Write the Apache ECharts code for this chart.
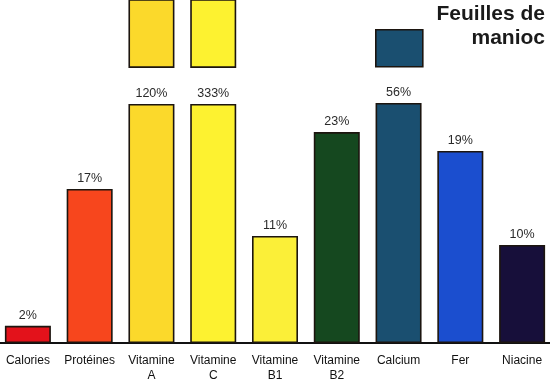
<!DOCTYPE html>
<html>
<head>
<meta charset="utf-8">
<style>
  html, body { margin: 0; padding: 0; background: #ffffff; }
  #chart { width: 550px; height: 380px; }
</style>
<script src="https://cdn.jsdelivr.net/npm/echarts@6/dist/echarts.min.js"></script>
</head>
<body>
<div id="chart"></div>
<script>
// Categories (x axis tick labels)
var categories = ['Calories', 'Protéines', 'Vitamine\nA', 'Vitamine\nC', 'Vitamine\nB1', 'Vitamine\nB2', 'Calcium', 'Fer', 'Niacine'];
// Printed values (% of daily needs), shown above each bar
var percentValues = [2, 17, 120, 333, 11, 23, 56, 19, 10];
// Drawn bar heights (in % of plot height; scale is not linear in the original)
var barHeights = [5.0, 44.9, 69.7, 69.7, 31.2, 61.5, 70.0, 56.0, 28.6];
// Broken bars: white gap above the lower part, then an upper part that runs off the top
var breakGap = [null, null, 10.5, 10.5, null, null, null, null, null];
var breakTop = [null, null, 40, 40, null, null, null, null, null];
// Bar colours
var barColors = ['#e3121b', '#f7461d', '#fbd92b', '#fdf230', '#fbef38', '#15481f', '#1a4f70', '#1b4ecf', '#170f3a'];
var legendColor = '#1a4f70';
var legendTitle = 'Feuilles de\nmanioc';

var FONT = '"Liberation Sans", Arial, Helvetica, sans-serif';
var BORDER = '#1c150f';

var chart = echarts.init(document.getElementById('chart'), null, { renderer: 'canvas' });

function coloured(arr, transparent) {
  return arr.map(function (v, i) {
    if (v === null) return { value: null };
    return {
      value: v,
      itemStyle: transparent
        ? { color: 'rgba(0,0,0,0)', borderWidth: 0 }
        : { color: barColors[i], borderColor: BORDER, borderWidth: 1.6 }
    };
  });
}

var option = {
  animation: false,
  backgroundColor: '#ffffff',
  grid: { left: -3, width: 556, top: 0, bottom: 37, containLabel: false, outerBoundsMode: 'none' },
  xAxis: {
    type: 'category',
    data: categories,
    axisLine: { show: true, lineStyle: { color: '#111111', width: 2 } },
    axisTick: { show: false },
    axisLabel: {
      interval: 0,
      margin: 10,
      fontSize: 12,
      lineHeight: 15,
      color: '#111111',
      fontFamily: FONT
    }
  },
  yAxis: {
    type: 'value',
    min: 0,
    max: 100,
    show: false,
    splitLine: { show: false }
  },
  series: [
    {
      name: 'Feuilles de manioc',
      type: 'bar',
      stack: 'b',
      barWidth: 46,
      clip: true,
      data: coloured(barHeights, false),
      label: {
        show: true,
        position: 'top',
        distance: 4,
        fontSize: 12.5,
        color: '#2a2a2a',
        fontFamily: FONT,
        formatter: function (p) { return percentValues[p.dataIndex] + '%'; }
      }
    },
    {
      type: 'bar',
      stack: 'b',
      barWidth: 46,
      silent: true,
      data: coloured(breakGap, true)
    },
    {
      type: 'bar',
      stack: 'b',
      barWidth: 46,
      clip: true,
      data: coloured(breakTop, false)
    }
  ],
  graphic: [
    {
      type: 'rect',
      left: 375,
      top: 29,
      shape: { width: 47, height: 37 },
      style: { fill: legendColor, stroke: BORDER, lineWidth: 1.6 }
    },
    {
      type: 'text',
      x: 545,
      y: 2,
      style: {
        x: 0,
        y: 0,
        text: legendTitle,
        fontSize: 21,
        fontWeight: 'bold',
        lineHeight: 24,
        fill: '#1a1a1a',
        fontFamily: FONT,
        align: 'right',
        verticalAlign: 'top'
      }
    }
  ]
};

chart.setOption(option);
</script>
</body>
</html>
